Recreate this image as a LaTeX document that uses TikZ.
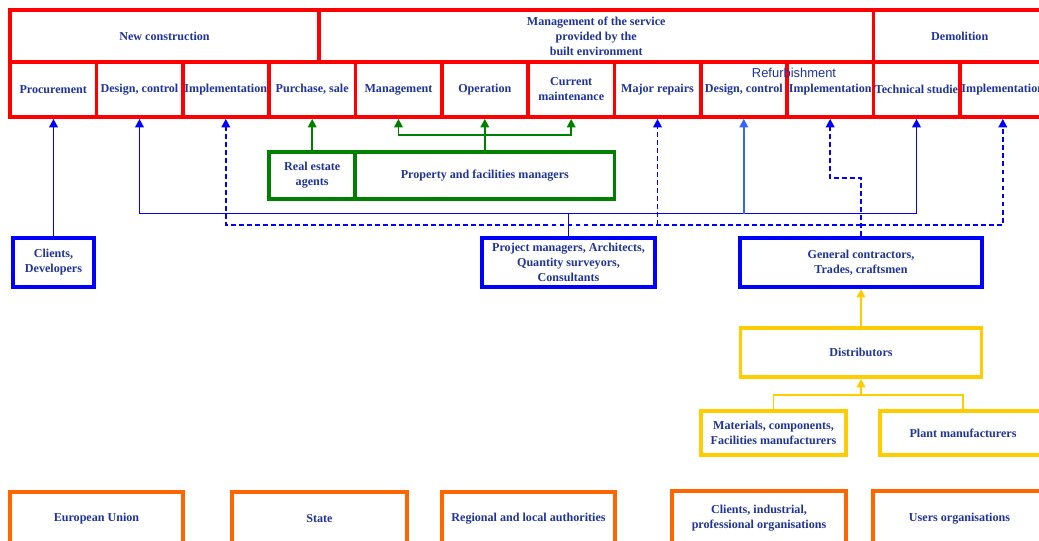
\documentclass[tikz,border=0pt]{standalone}
\usepackage{fontspec}
\setmainfont{Liberation Serif}
\newfontfamily\arialfont{Liberation Sans}
\usetikzlibrary{arrows.meta,positioning}
\definecolor{bRed}{HTML}{FF0000}
\definecolor{bGreen}{HTML}{008000}
\definecolor{bBlue}{HTML}{0000FF}
\definecolor{bSky}{HTML}{3366FF}
\definecolor{bYellow}{HTML}{FFCC00}
\definecolor{bOrange}{HTML}{FF6600}
\definecolor{bNavy}{HTML}{1F3399}

\begin{document}
\begin{tikzpicture}[x=0.025cm, y=-0.025cm,
  every node/.style={font=\fontsize{8.6}{10.6}\selectfont\bfseries, text=bNavy, align=center, inner sep=0pt},
  box/.style={draw=#1, line width=2.6pt},
  topbox/.style={box=bRed, minimum height=1.3cm},
  cell/.style={box=bRed, minimum width=2.158cm, minimum height=1.375cm},
  tipup/.style={-{Triangle[width=6pt,length=6pt]}},
  blueline/.style={draw=bBlue, line width=1.3pt},
  skyline/.style={draw=bSky, line width=1.3pt},
  dashline/.style={draw=bBlue, line width=1.4pt, dash pattern=on 3.5pt off 2.2pt},
  greenline/.style={draw=bGreen, line width=1.3pt},
  yelline/.style={draw=bYellow, line width=1.3pt}]
  \useasboundingbox (0,0) rectangle (1039,540);
  \clip (0,0) rectangle (1039,540);

  % top band
  \node[topbox, minimum width=7.725cm] (newc) at (164.5,36) {New construction};
  \node[topbox, minimum width=13.858cm] (mgmt) at (596.2,36) {Management of the service\\provided by the\\built environment};
  \node[topbox, minimum width=4.318cm] (demo) at (959.7,36) {Demolition};

  % stages
  \node[cell] (p1) at (53.2,89.5) {Procurement};
  \node[cell] (p2) at (139.5,89.5) {Design, control};
  \node[cell] (p3) at (225.8,89.5) {Implementation};
  \node[cell] (p4) at (312.2,89.5) {Purchase, sale};
  \node[cell] (p5) at (398.5,89.5) {Management};
  \node[cell] (p6) at (484.8,89.5) {Operation};
  \node[cell] (p7) at (571.2,89.5) {Current\\maintenance};
  \node[cell] (p8) at (657.5,89.5) {Major repairs};
  \node[cell] (p9) at (743.8,89.5) {Design, control};
  \node[cell] (p10) at (830.2,89.5) {Implementation};
  \node[cell] (p11) at (916.5,89.5) {Technical studie};
  \node[cell] (p12) at (1002.8,89.5) {Implementation};
  \node[font=\arialfont\fontsize{9.2}{11}\selectfont] (refurb) at (794,73) {Refurbishment};

  % actors
  \node[box=bGreen, minimum width=2.158cm, minimum height=1.175cm] (agents) at (312.2,175.5) {Real estate\\agents};
  \node[box=bGreen, minimum width=6.475cm, minimum height=1.175cm] (pfm) at (484.8,175.5) {Property and facilities managers};
  \node[box=bBlue, minimum width=2.025cm, minimum height=1.225cm] (clients) at (53.5,262.5) {Clients,\\Developers};
  \node[box=bBlue, minimum width=4.325cm, minimum height=1.225cm] (pm) at (568.5,262.5) {Project managers, Architects,\\Quantity surveyors,\\Consultants};
  \node[box=bBlue, minimum width=6.05cm, minimum height=1.225cm] (gc) at (861,262.5) {General contractors,\\Trades, craftsmen};
  \node[box=bYellow, minimum width=6.025cm, minimum height=1.225cm] (dist) at (861,352.5) {Distributors};
  \node[box=bYellow, minimum width=3.625cm, minimum height=1.1cm] (mat) at (773.5,433) {Materials, components,\\Facilities manufacturers};
  \node[box=bYellow, minimum width=4.15cm, minimum height=1.1cm] (plant) at (963,433) {Plant manufacturers};

  % institutions
  \node[box=bOrange, minimum width=4.325cm, minimum height=1.35cm] (eu) at (96.5,519) {European Union};
  \node[box=bOrange, minimum width=4.375cm, minimum height=1.35cm] (state) at (319.5,519) {State};
  \node[box=bOrange, minimum width=4.325cm, minimum height=1.35cm] (regional) at (528.5,519) {Regional and local authorities};
  \node[box=bOrange, minimum width=4.35cm, minimum height=1.375cm] (profs) at (759,518.5) {Clients, industrial,\\professional organisations};
  \node[box=bOrange, minimum width=4.325cm, minimum height=1.375cm] (users) at (959.5,518.5) {Users organisations};

  \coordinate (solidbus) at (0,213.5);
  \coordinate (dashbus) at (0,225);
  \coordinate (greenbus) at (0,135);
  \coordinate (gcbend) at (0,178);
  \coordinate (yelbus) at (0,395);

  % blue links
  \draw[blueline, tipup] (clients.north) -- (clients.north |- p1.south);
  \draw[blueline, tipup] (pm.north) |- (p2.south |- solidbus) -- (p2.south);
  \draw[blueline, tipup] (pm.north |- solidbus) -| (p11.south);
  \draw[skyline, tipup] (p9.south |- solidbus) -- (p9.south);
  \draw[dashline, tipup] (gc.north |- dashbus) -| (p3.south);
  \draw[dashline, tipup] (gc.north |- dashbus) -| (p12.south);
  \draw[dashline, tipup] (p8.south |- dashbus) -- (p8.south);
  \draw[dashline, tipup] (gc.north) |- (p10.south |- gcbend) -- (p10.south);

  % green links
  \draw[greenline, tipup] (agents.north) -- (agents.north |- p4.south);
  \draw[greenline, tipup] (pfm.north) -- (pfm.north |- p6.south);
  \draw[greenline, tipup] (p6.south |- greenbus) -| (p5.south);
  \draw[greenline, tipup] (p6.south |- greenbus) -| (p7.south);

  % yellow links
  \draw[yelline, tipup] (dist.north) -- (dist.north |- gc.south);
  \draw[yelline] (mat.north) |- (plant.north |- yelbus) -- (plant.north);
  \draw[yelline, tipup] (dist.south |- yelbus) -- (dist.south);
\end{tikzpicture}
\end{document}
